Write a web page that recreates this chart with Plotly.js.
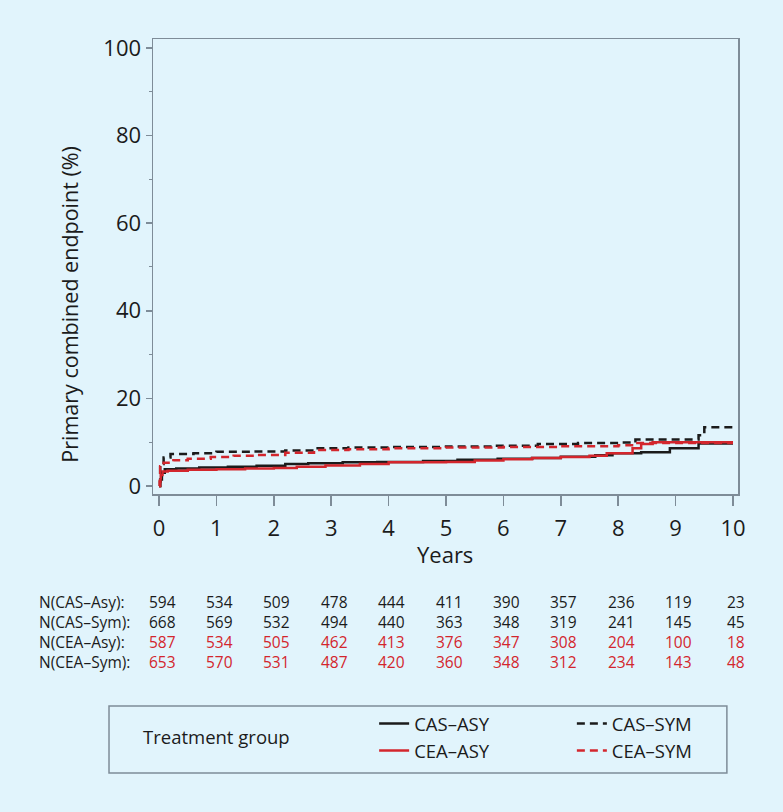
<!DOCTYPE html>
<html>
<head>
<meta charset="utf-8">
<script src="https://cdn.plot.ly/plotly-3.0.1.min.js"></script>
<style>
  html, body { margin: 0; padding: 0; background: #e1f4fc; }
</style>
</head>
<body>
<div id="km" style="width:783px;height:812px;"></div>
<script>
// Kaplan-Meier style cumulative incidence
var casAsyT = [0, 0.02, 0.05, 0.1, 0.3, 0.7, 1.2, 1.7, 2.2, 2.6, 3.2, 3.8, 4.6, 5.2, 5.9, 6.5, 7.0, 7.6, 7.9, 8.4, 8.9, 9.4, 10];
var casAsyY = [0, 1.5, 3.0, 3.8, 4.0, 4.2, 4.4, 4.6, 5.0, 5.2, 5.4, 5.5, 5.7, 6.0, 6.2, 6.4, 6.7, 7.0, 7.5, 7.7, 8.6, 9.7, 9.7];

var ceaAsyT = [0, 0.01, 0.03, 0.06, 0.15, 0.5, 1.0, 1.5, 2.0, 2.4, 2.9, 3.5, 4.0, 5.0, 5.5, 6.0, 6.5, 7.0, 7.5, 7.8, 8.25, 8.4, 8.6, 10];
var ceaAsyY = [0, 1.0, 2.5, 3.3, 3.5, 3.7, 3.8, 4.0, 4.1, 4.4, 4.7, 5.0, 5.4, 5.5, 5.8, 6.1, 6.4, 6.6, 6.9, 7.5, 8.6, 9.6, 10.0, 10.0];

var casSymT = [0, 0.02, 0.08, 0.2, 0.6, 1.0, 1.6, 2.2, 2.7, 3.3, 4.0, 5.0, 5.8, 6.6, 7.3, 8.0, 8.3, 9.4, 9.5, 10];
var casSymY = [0, 5.0, 6.5, 7.3, 7.5, 7.8, 7.9, 8.1, 8.6, 8.8, 8.9, 9.0, 9.2, 9.6, 9.8, 9.9, 10.6, 11.6, 13.4, 13.4];

var ceaSymT = [0, 0.02, 0.08, 0.25, 0.5, 0.9, 1.3, 1.7, 2.2, 2.7, 3.3, 4.0, 5.0, 6.0, 7.0, 8.0, 8.3, 10];
var ceaSymY = [0, 4.5, 5.3, 5.9, 6.2, 6.6, 6.9, 7.1, 7.6, 8.2, 8.4, 8.6, 8.8, 8.9, 9.1, 9.3, 9.8, 9.8];

// numbers at risk
var riskYears = [0, 1, 2, 3, 4, 5, 6, 7, 8, 9, 10];
var riskLabels = ['N(CAS–Asy):', 'N(CAS–Sym):', 'N(CEA–Asy):', 'N(CEA–Sym):'];
var nCasAsy = [594, 534, 509, 478, 444, 411, 390, 357, 236, 119, 23];
var nCasSym = [668, 569, 532, 494, 440, 363, 348, 319, 241, 145, 45];
var nCeaAsy = [587, 534, 505, 462, 413, 376, 347, 308, 204, 100, 18];
var nCeaSym = [653, 570, 531, 487, 420, 360, 348, 312, 234, 143, 48];

var xTicks = [0, 1, 2, 3, 4, 5, 6, 7, 8, 9, 10];
var yTicks = [0, 20, 40, 60, 80, 100];

var BLACK = '#1b1b1b';
var RED = '#d3262d';
var FRAME = '#7e8c98';
var BG = '#e1f4fc';
var FONT = 'Open Sans, Noto Sans, sans-serif';

function stepTrace(t, y, name, color, dash, legend) {
    return {
        x: t, y: y, name: name,
        type: 'scatter', mode: 'lines',
        line: { color: color, width: 2.5, shape: 'hv', dash: dash },
        legend: legend,
        hoverinfo: 'skip'
    };
}

// solid lines in the first legend column, dashed in the second
var traces = [
    stepTrace(casAsyT, casAsyY, 'CAS–ASY', BLACK, 'solid', 'legend'),
    stepTrace(ceaAsyT, ceaAsyY, 'CEA–ASY', RED, 'solid', 'legend'),
    stepTrace(casSymT, casSymY, 'CAS–SYM', BLACK, '8px,5px', 'legend2'),
    stepTrace(ceaSymT, ceaSymY, 'CEA–SYM', RED, '8px,5px', 'legend2')
];

// risk table: one 4-line annotation per column
var riskSeries = [nCasAsy, nCasSym, nCeaAsy, nCeaSym];
var riskColors = [BLACK, BLACK, RED, RED];
var RISK_Y = -0.304;   // middle of the four rows, paper units

var annotations = [];
annotations.push({
    text: riskLabels.join('<br>'), xref: 'paper', yref: 'paper', x: -0.198, y: RISK_Y,
    xanchor: 'left', yanchor: 'middle', align: 'left', showarrow: false,
    font: { family: FONT, size: 15.5, color: BLACK }
});
riskYears.forEach(function(yr, i) {
    var lines = riskSeries.map(function(s, k) {
        return '<span style="color:' + riskColors[k] + '">' + s[i] + '</span>';
    });
    annotations.push({
        text: lines.join('<br>'), xref: 'x', yref: 'paper', x: yr, y: RISK_Y,
        xanchor: 'center', yanchor: 'middle', align: 'center', showarrow: false, xshift: 3,
        font: { family: FONT, size: 15.5, color: BLACK }
    });
});

// axis titles
annotations.push({
    text: 'Primary combined endpoint (%)', xref: 'paper', yref: 'paper',
    x: -0.142, y: 0.418, textangle: -90, showarrow: false,
    xanchor: 'center', yanchor: 'middle',
    font: { family: FONT, size: 21.5, color: BLACK }
});
annotations.push({
    text: 'Years', xref: 'paper', yref: 'paper', x: 0.499, y: -0.132,
    showarrow: false, xanchor: 'center', yanchor: 'middle',
    font: { family: FONT, size: 22, color: BLACK }
});
annotations.push({
    text: 'Treatment group', xref: 'paper', yref: 'paper', x: -0.0205, y: -0.534,
    showarrow: false, xanchor: 'left', yanchor: 'middle',
    font: { family: FONT, size: 18.5, color: BLACK }
});

var legendBase = {
    orientation: 'v', xanchor: 'left', yanchor: 'middle', y: -0.535,
    bgcolor: 'rgba(0,0,0,0)', borderwidth: 0, tracegroupgap: 0,
    font: { family: FONT, size: 18.5, color: BLACK }
};

var layout = {
    width: 783, height: 812,
    margin: { l: 153, r: 45, t: 39, b: 318 },
    paper_bgcolor: BG, plot_bgcolor: BG,
    font: { family: FONT, color: BLACK },
    showlegend: true,
    legend: Object.assign({}, legendBase, { x: 0.378 }),
    legend2: Object.assign({}, legendBase, { x: 0.716 }),
    xaxis: {
        range: [-0.105, 10.087], tickvals: xTicks, ticktext: xTicks.map(String),
        ticks: 'outside', ticklen: 10, tickwidth: 1.5, tickcolor: FRAME,
        showline: true, linecolor: FRAME, linewidth: 1.5, mirror: true,
        showgrid: false, zeroline: false, ticklabelstandoff: 4,
        tickfont: { family: FONT, size: 22, color: BLACK }
    },
    yaxis: {
        range: [-1.83, 102.05], tickvals: yTicks, ticktext: yTicks.map(String),
        ticks: 'outside', ticklen: 6, tickwidth: 1.5, tickcolor: FRAME,
        minor: { dtick: 10, tick0: 0, ticks: 'outside', ticklen: 3, tickcolor: FRAME, tickwidth: 1 },
        showline: true, linecolor: FRAME, linewidth: 1.5, mirror: true,
        showgrid: false, zeroline: false,
        tickfont: { family: FONT, size: 22, color: BLACK }
    },
    shapes: [{
        type: 'rect', xref: 'paper', yref: 'paper',
        x0: -0.0752, x1: 0.981, y0: -0.613, y1: -0.466,
        line: { color: FRAME, width: 1.5 }, fillcolor: 'rgba(0,0,0,0)'
    }],
    annotations: annotations
};

Plotly.newPlot('km', traces, layout, { displayModeBar: false, staticPlot: true });
</script>
</body>
</html>
